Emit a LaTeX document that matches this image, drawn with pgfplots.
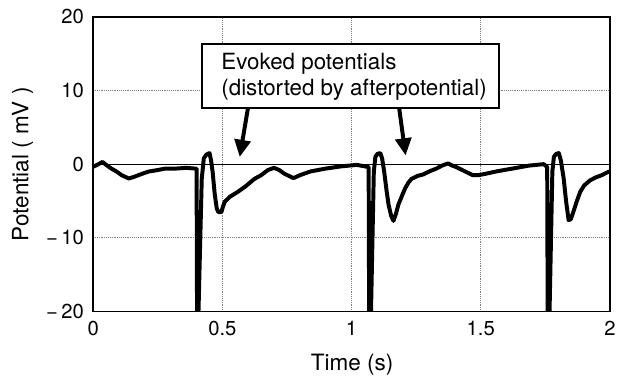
\documentclass[border=0pt]{standalone}
\usepackage{pgfplots}
\pgfplotsset{compat=1.18}
\usepackage{fontspec}
\setmainfont{TeX Gyre Heros}
\usetikzlibrary{arrows.meta}
\begin{document}
\begin{tikzpicture}
\begin{axis}[
  scale only axis,
  width=390.75pt, height=222.75pt,
  xmin=0, xmax=2, ymin=-20, ymax=20,
  xtick={0,0.5,1,1.5,2},
  xticklabels={0,0.5,1,1.5,2},
  ytick={-20,-10,0,10,20},
  yticklabels={−\,20,−\,10,0,10,20},
  major tick length=0pt,
  axis line style={line width=1.3pt},
  grid=major,
  grid style={densely dotted, gray, line width=0.6pt},
  xticklabel style={font=\fontsize{15.3}{17}\selectfont, yshift=-4pt},
  yticklabel style={font=\fontsize{15.3}{17}\selectfont, xshift=-3.5pt},
  xlabel={Time (s)},
  ylabel={Potential ( mV )},
  xlabel style={font=\fontsize{17}{20}\selectfont, at={(axis description cs:0.501,-0.182)}, anchor=center},
  ylabel style={font=\fontsize{17}{20}\selectfont, at={(axis description cs:-0.137,0.5)}, anchor=center},
  clip=true,
]
\coordinate (bl) at (rel axis cs:0,0);
\coordinate (tr) at (rel axis cs:1,1);
\draw[line width=0.75pt] (axis cs:0,0) -- (axis cs:2,0);
\addplot[black, line width=3pt, line join=round, line cap=round] coordinates {
(0,-0.35) (0.015,-0.1) (0.036,0.3) (0.05,-0.1) (0.07,-0.6) (0.09,-1.0) (0.11,-1.5) (0.138,-1.95) (0.16,-1.7) (0.19,-1.3) (0.215,-1.0) (0.25,-0.8) (0.279,-0.6) (0.32,-0.6) (0.36,-0.5) (0.394,-0.6)
(0.400,-0.6) (0.402,-22) (0.406,-22) (0.420,-2) (0.428,0.8) (0.438,1.3) (0.450,1.5) (0.456,0.5) (0.462,-1) (0.470,-4) (0.478,-6.0) (0.484,-6.5) (0.496,-6.5) (0.502,-5.8) (0.509,-5.1) (0.53,-4.4) (0.56,-3.75) (0.59,-3.0) (0.624,-2.0) (0.65,-1.5) (0.676,-0.8) (0.700,-0.5) (0.72,-0.8) (0.74,-1.3) (0.775,-1.9) (0.80,-1.5) (0.84,-1.0) (0.90,-0.6) (0.96,-0.3) (1.02,-0.1) (1.066,-0.4)
(1.068,-22) (1.074,-22) (1.086,-1) (1.092,1.0) (1.100,1.4) (1.111,1.5) (1.118,0.8) (1.126,-1) (1.135,-3.5) (1.143,-5.5) (1.153,-7) (1.162,-7.7) (1.172,-6.7) (1.181,-5.5) (1.195,-4.3) (1.207,-3.3) (1.220,-2.5) (1.232,-2.0) (1.255,-1.6) (1.277,-1.4) (1.30,-1.0) (1.328,-0.6) (1.350,-0.2) (1.373,0.1) (1.39,-0.2) (1.405,-0.4) (1.44,-1.0) (1.469,-1.5) (1.49,-1.5) (1.52,-1.3) (1.559,-1.0) (1.59,-0.8) (1.623,-0.6) (1.686,-0.2) (1.744,0) (1.757,-0.4)
(1.759,-22) (1.765,-22) (1.777,-1) (1.783,1.0) (1.792,1.4) (1.802,1.5) (1.810,0.5) (1.821,-2) (1.830,-5) (1.840,-7.6) (1.848,-7.5) (1.859,-6.4) (1.872,-5.0) (1.885,-3.75) (1.90,-2.9) (1.923,-2.2) (1.945,-1.8) (1.968,-1.5) (1.993,-1.05) (2.0,-1.0)
};
\draw[line width=1.3pt, fill=white] (axis cs:0.422,7.64) rectangle (axis cs:1.570,16.32);
\node[anchor=base west, inner sep=0pt, font=\fontsize{16.9}{19}\selectfont] at (axis cs:0.495,12.86) {Evoked potentials};
\node[anchor=base west, inner sep=0pt, font=\fontsize{16.9}{19}\selectfont] at (axis cs:0.495,9.27) {(distorted by afterpotential)};
\draw[line width=3pt, -{Triangle[length=13pt,width=12pt]}] (axis cs:0.599,7.64) -- (axis cs:0.567,0.97);
\draw[line width=3pt, -{Triangle[length=13pt,width=12pt]}] (axis cs:1.184,7.64) -- (axis cs:1.209,1.18);
\end{axis}
\path (bl) ++(-70.5pt,-48.75pt);
\path (tr) ++(3.75pt,12.75pt);
\end{tikzpicture}
\end{document}
